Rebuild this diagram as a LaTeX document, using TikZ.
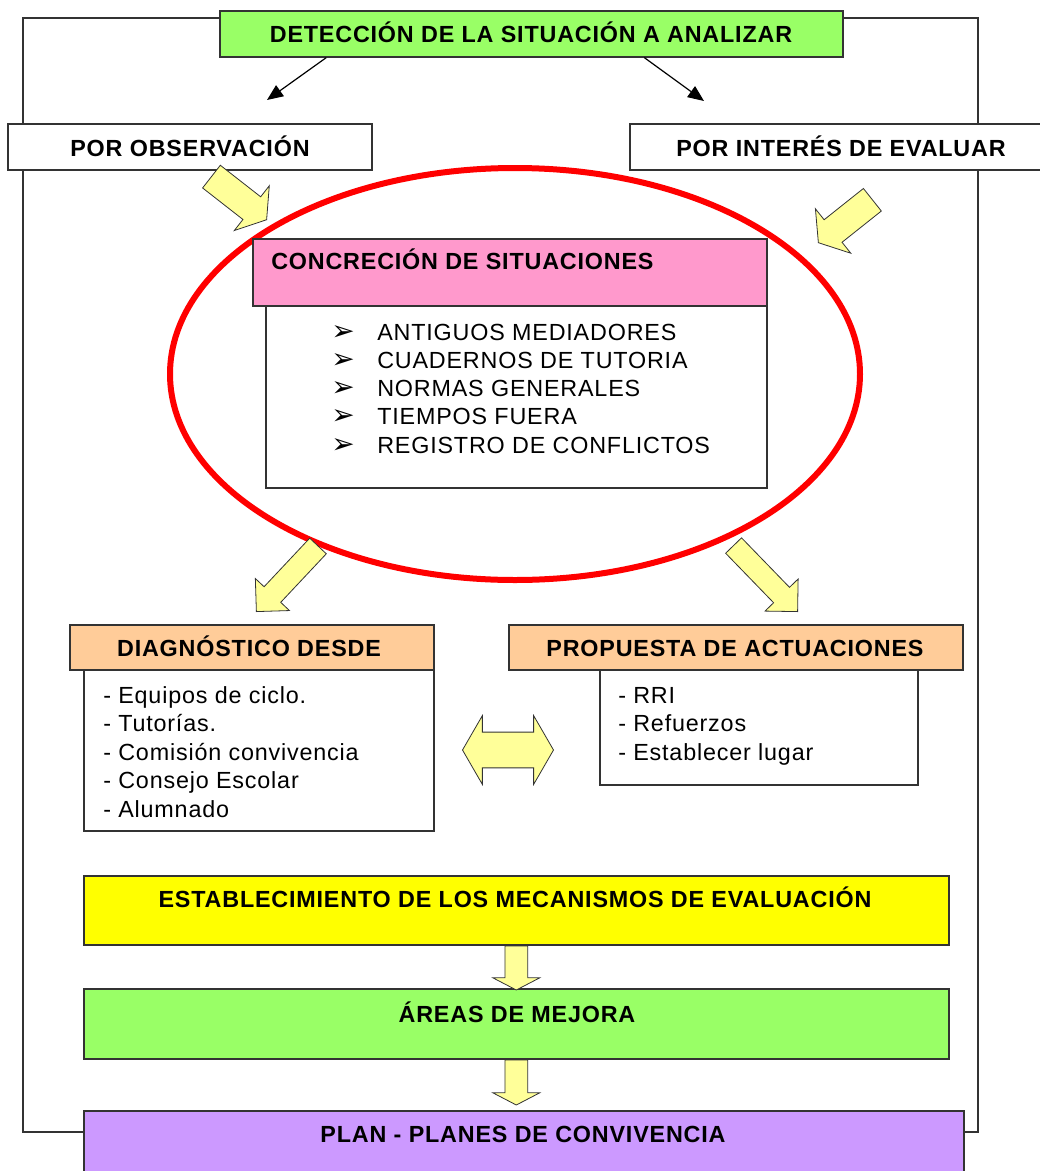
\documentclass[tikz,border=0pt]{standalone}
\usepackage{fontspec}
\setmainfont{Liberation Sans}[LetterSpace=3.5]
\newfontfamily\simbolos{DejaVu Sans}
\usetikzlibrary{arrows.meta,shapes.arrows}
\definecolor{verde}{HTML}{99FF66}
\definecolor{rosa}{HTML}{FF99CC}
\definecolor{salmon}{HTML}{FFCC99}
\definecolor{amarillo}{HTML}{FFFF00}
\definecolor{lila}{HTML}{CC99FF}
\definecolor{crema}{HTML}{FFFF99}
\definecolor{rojo}{HTML}{FF0000}
\definecolor{borde}{HTML}{333333}
\tikzset{
	caja/.style={draw=borde, line width=1.2pt, inner sep=0pt, anchor=north west},
	titulo/.style={anchor=base, inner sep=0pt, font=\bfseries\fontsize{17.5}{21}\selectfont},
	item/.style={anchor=base west, inner sep=0pt, font=\fontsize{17.5}{21}\selectfont},
	vineta/.style={anchor=base west, inner sep=0pt, font=\simbolos\fontsize{21}{21}\selectfont},
	flecha/.style={single arrow, draw=borde, fill=crema, line width=0.6pt, inner xsep=0pt, anchor=tip},
	flechita/.style={draw=black, line width=0.9pt, -{Triangle[length=12pt, width=10pt]}},
}

\begin{document}
\begin{tikzpicture}[x=0.75pt, y=-0.75pt]
			%%%%% START %%%%%
			\useasboundingbox (0,0) rectangle (1039,1171);
			
			\draw[draw=borde, line width=0.8pt] (23,18) rectangle (978,1132);
			
			\node[caja, fill=verde, minimum width=467.25pt, minimum height=34.5pt] (det) at (219,10) {};
			\node[caja, fill=white, minimum width=273pt, minimum height=34.5pt] (obs) at (7,123) {};
			\node[caja, fill=white, minimum width=319.5pt, minimum height=34.5pt] (int) at (629,123) {};
			\node[titulo] (tdet) at (531,42) {DETECCIÓN DE LA SITUACIÓN A ANALIZAR};
			\node[titulo] (tobs) at (190,156) {POR OBSERVACIÓN};
			\node[titulo] (tint) at (841,156) {POR INTERÉS DE EVALUAR};
			
			\coordinate (pobs) at (267,100);
			\coordinate (pint) at (704,101);
			\draw[flechita] ([xshift=-153.75pt]det.south) -- (pobs);
			\draw[flechita] ([xshift=84.75pt]det.south) -- (pint);
			
			\draw[draw=rojo, line width=4.5pt] (515,374) ellipse [x radius=258.75pt, y radius=154.5pt];
			
			\node[caja, fill=white, minimum width=375.75pt, minimum height=136.5pt] (concr) at (265,305) {};
			\node[caja, fill=rosa, minimum width=385.5pt, minimum height=50.25pt] (hconcr) at (252,238) {};
			\node[titulo, anchor=base west] (tconcr) at (271,269) {CONCRECIÓN DE SITUACIONES};
			\foreach \t [count=\i] in {ANTIGUOS MEDIADORES, CUADERNOS DE TUTORIA, NORMAS GENERALES, TIEMPOS FUERA, REGISTRO DE CONFLICTOS} {
				\node[vineta] (v\i) at (331,{340+28.3*(\i-1)}) {➢};
				\node[item] (c\i) at (377,{340+28.3*(\i-1)}) {\t};
			}
			
			\node[flecha, minimum height=52.5pt, inner ysep=10.5pt, single arrow head extend=10.5pt, single arrow tip angle=113, rotate=-38] (f1) at (267,220) {};
			\node[flecha, minimum height=51.75pt, inner ysep=10.5pt, single arrow head extend=10.5pt, single arrow tip angle=113, rotate=218.5] (f2) at (818,243) {};
			\node[flecha, minimum height=67.5pt, inner ysep=8.25pt, single arrow head extend=9pt, single arrow tip angle=90, rotate=226.8] (f3) at (256,612) {};
			\node[flecha, minimum height=69pt, inner ysep=8pt, single arrow head extend=9pt, single arrow tip angle=90, rotate=-45.9] (f4) at (798,612) {};
			
			\node[caja, fill=white, minimum width=262.5pt, minimum height=120.75pt] (diag) at (83,669) {};
			\node[caja, fill=salmon, minimum width=273pt, minimum height=33.75pt] (hdiag) at (69,624) {};
			\node[titulo] (tdiag) at (249,656) {DIAGNÓSTICO DESDE};
			\foreach \t [count=\i] in {Equipos de ciclo., Tutorías., Comisión convivencia, Consejo Escolar, Alumnado} {
				\node[item] (d\i) at (103,{703+28.5*(\i-1)}) {- \t};
			}
			
			\node[caja, fill=white, minimum width=238.5pt, minimum height=86.25pt] (prop) at (599,669) {};
			\node[caja, fill=salmon, minimum width=340.5pt, minimum height=33.75pt] (hprop) at (508,624) {};
			\node[titulo] (tprop) at (735,656) {PROPUESTA DE ACTUACIONES};
			\foreach \t [count=\i] in {RRI, Refuerzos, Establecer lugar} {
				\node[item] (p\i) at (618,{703+28.5*(\i-1)}) {- \t};
			}
			
			\node[double arrow, draw=borde, fill=crema, line width=0.6pt, inner xsep=0pt, inner ysep=13.1pt, minimum height=68.25pt, double arrow head extend=12.4pt, double arrow tip angle=120] (f7) at (508,750) {};
			
			\node[caja, fill=amarillo, minimum width=648.75pt, minimum height=51.75pt] (est) at (83,875) {};
			\node[titulo] (test) at (515,907) {ESTABLECIMIENTO DE LOS MECANISMOS DE EVALUACIÓN};
			\node[caja, fill=verde, minimum width=648.75pt, minimum height=52.5pt] (areas) at (83,988) {};
			\node[titulo] (tareas) at (517,1022) {ÁREAS DE MEJORA};
			\node[caja, fill=lila, minimum width=660pt, minimum height=60pt] (plan) at (83,1110) {};
			\node[titulo] (tplan) at (523,1142) {PLAN - PLANES DE CONVIVENCIA};
			
			\node[flecha, anchor=tail, rotate=-90, minimum height=33pt, inner ysep=8.25pt, single arrow head extend=9pt, single arrow tip angle=125] (f5) at (est.south) {};
			\node[flecha, anchor=tail, rotate=-90, minimum height=33.75pt, inner ysep=8.25pt, single arrow head extend=9pt, single arrow tip angle=125] (f6) at (areas.south) {};
			%%%%% END %%%%%
\end{tikzpicture}
\end{document}
